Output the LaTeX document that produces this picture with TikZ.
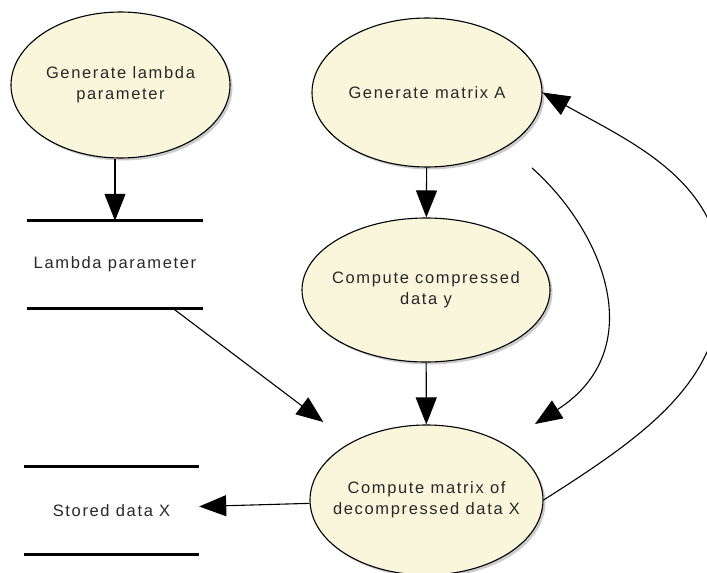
\documentclass[tikz,border=0pt]{standalone}
\usepackage{fontspec}
\newfontfamily\dfdfont{Liberation Sans}[LetterSpace=10]
\usetikzlibrary{shapes.geometric, shadows, arrows.meta, positioning}
\definecolor{procfill}{RGB}{250,246,220}
\definecolor{dfdtext}{RGB}{40,40,40}

\tikzset{
  dfdlabel/.style={text=dfdtext, font=\dfdfont\fontsize{16.5pt}{21pt}\selectfont},
  proc/.style={ellipse, draw, line width=1.1pt, fill=procfill, inner xsep=-15pt, inner ysep=0pt,
    align=center, dfdlabel,
    drop shadow={shadow xshift=2.5pt, shadow yshift=-2.5pt, fill=black!20, opacity=1}},
  dstore/.style={minimum width=175pt, minimum height=87pt, inner sep=0pt, dfdlabel},
  flow/.style={->, line width=1.1pt}
}

\begin{document}
\begin{tikzpicture}[x=1pt, y=-1pt, >={Triangle[length=27pt,width=21pt]}]
    \useasboundingbox (0,0) rectangle (707,573);

    \node[proc, minimum width=219pt, minimum height=146pt] (genlam) at (120.5,85) {Generate lambda\\parameter};
    \node[proc, minimum width=230pt, minimum height=149pt] (genA) at (427,92.5) {Generate matrix A};
    \node[proc, minimum width=248pt, minimum height=144pt] (compY) at (426,290) {Compute compressed\\data y};
    \node[proc, minimum width=233pt, minimum height=150pt] (decX) at (426.5,500) {Compute matrix of\\decompressed data X};

    \node[dstore] (lampar) at (115,264.5) {Lambda parameter};
    \node[dstore] (storedX) at (111.5,510.5) {Stored data X};

    % data store bars
    \foreach \s in {lampar,storedX}
        \draw[line width=2.8pt] (\s.north west) -- (\s.north east) (\s.south west) -- (\s.south east);

    \coordinate (Aout) at ([shift={(105,75.5)}]genA.center);
    \coordinate (Xin) at ([shift={(108.5,-76)}]decX.center);
    \coordinate (Lout) at ([xshift=-30pt]lampar.south east);
    \coordinate (loopR) at (722,281);

    \path (genlam.south -| lampar.north) edge[flow] (lampar.north)
          (genA) edge[flow] (compY)
          (compY) edge[flow] (decX)
          (Lout) edge[flow, shorten >=34pt] (decX)
          (decX) edge[flow] ([yshift=4pt]storedX.east);

    \draw[flow] (Aout) .. controls +(73,65) and +(115,-74) .. (Xin);
    \draw[flow] (decX.east) .. controls +(104,-66) and +(0,100) .. (loopR)
                .. controls +(0,-100) and +(89,50) .. (genA.east);
\end{tikzpicture}
\end{document}
